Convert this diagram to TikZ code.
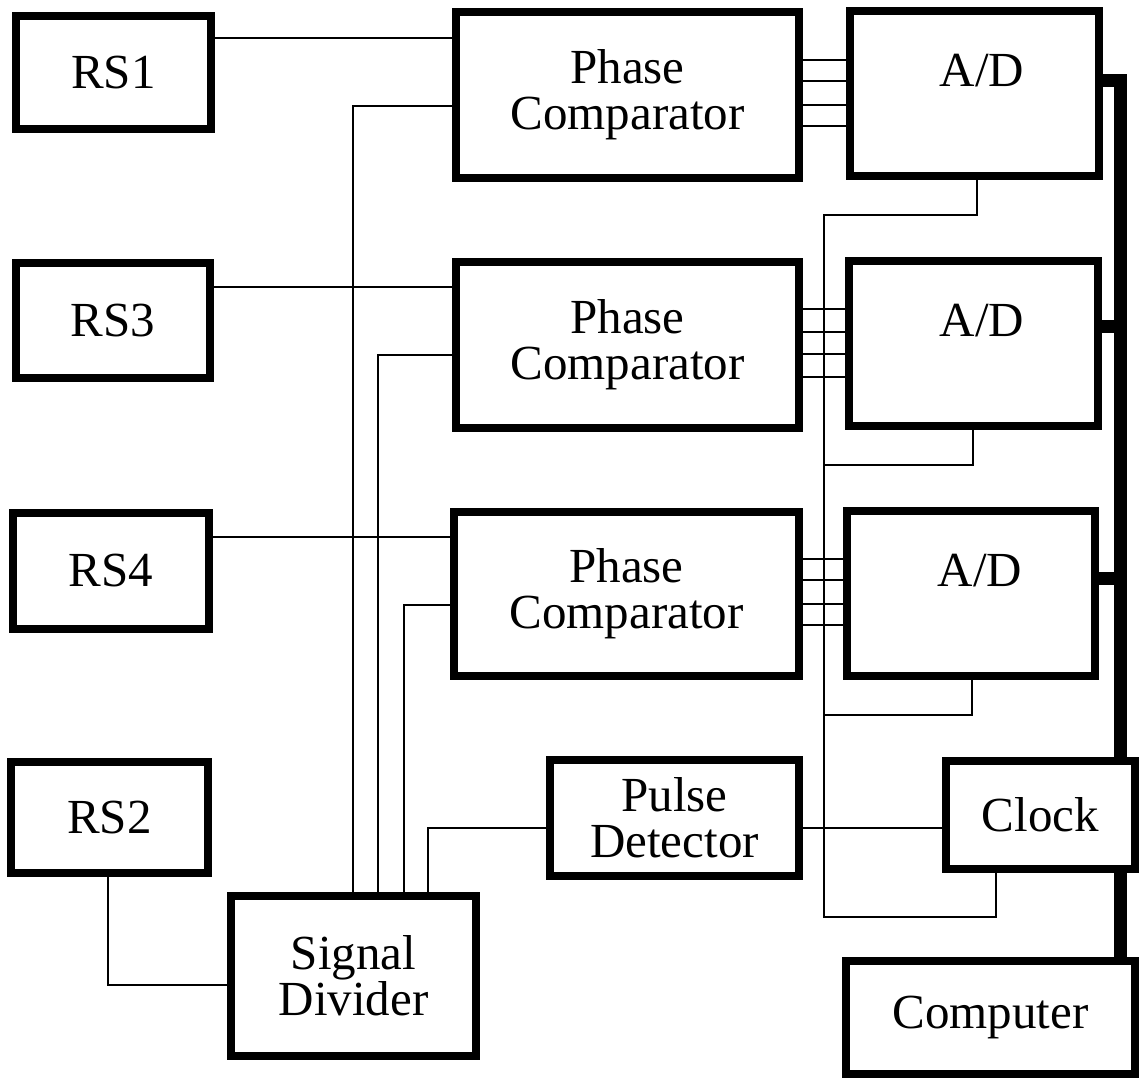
\documentclass[tikz,border=0pt]{standalone}
\usepackage{fontspec}
\setmainfont{Liberation Serif}
\begin{document}
\begin{tikzpicture}[x=1pt,y=-1pt,
  box/.style={draw, line width=8pt, inner sep=0pt, outer sep=0pt, align=center,
    font=\fontsize{49}{46}\selectfont},
  txt/.style={inner sep=0pt, font=\fontsize{49}{46}\selectfont},
  wire/.style={line width=2.4pt},
  bus/.style={line width=13pt, line join=miter}]
\useasboundingbox (0,0) rectangle (1139,1080);
\newcommand\mkbox[6]{\node[box, minimum width={(#4-#2-8)*1pt}, minimum height={(#5-#3-8)*1pt}] (#1) at ({(#2+#4)/2},{(#3+#5)/2}) {#6};}
\coordinate (busx) at (1120,0);
% boxes
\mkbox{rs1}{12}{12}{215}{133}{RS1}
\mkbox{rs3}{12}{259}{214}{382}{RS3}
\mkbox{rs4}{9}{509}{213}{633}{RS4}
\mkbox{rs2}{7}{758}{212}{877}{RS2}
\mkbox{pc1}{452}{8}{803}{182}{Phase\\Comparator}
\mkbox{pc2}{452}{258}{803}{432}{Phase\\Comparator}
\mkbox{pc3}{450}{508}{803}{680}{Phase\\Comparator}
\mkbox{ad1}{846}{7}{1103}{180}{}
\mkbox{ad2}{845}{257}{1102}{430}{}
\mkbox{ad3}{843}{507}{1099}{680}{}
\mkbox{pd}{546}{756}{803}{880}{Pulse\\Detector}
\mkbox{clk}{942}{757}{1139}{873}{Clock}
\mkbox{cmp}{842}{957}{1139}{1078}{Computer}
\mkbox{sd}{227}{892}{480}{1060}{Signal\\Divider}
\node[txt, anchor=base] (adt1) at (982,86) {A/D};
\node[txt, anchor=base] (adt2) at (982,336) {A/D};
\node[txt, anchor=base] (adt3) at (980,586) {A/D};
% bus
\draw[bus] (ad1.east |- 0,80) -- (busx |- 0,80) -- (busx |- clk.north);
\draw[bus] (ad2.east |- 0,326) -- (busx |- 0,326);
\draw[bus] (ad3.east |- 0,578) -- (busx |- 0,578);
\draw[bus] (busx |- clk.south) -- (busx |- cmp.north);
% RS inputs
\draw[wire] (rs1.east |- 0,38) -- (pc1.west |- 0,38);
\draw[wire] (rs3.east |- 0,287) -- (pc2.west |- 0,287);
\draw[wire] (rs4.east |- 0,537) -- (pc3.west |- 0,537);
\draw[wire] (rs2.south -| 108,0) -- (108,985) -- (sd.west |- 0,985);
% signal divider outputs
\draw[wire] (sd.north -| 353,0) -- (353,106) -- (pc1.west |- 0,106);
\draw[wire] (sd.north -| 378,0) -- (378,355) -- (pc2.west |- 0,355);
\draw[wire] (sd.north -| 404,0) -- (404,605) -- (pc3.west |- 0,605);
\draw[wire] (sd.north -| 428,0) -- (428,828) -- (pd.west |- 0,828);
\draw[wire] (pd.east |- 0,828) -- (clk.west |- 0,828);
% PC to A/D
\foreach \y in {60,81,105,126} \draw[wire] (pc1.east |- 0,\y) -- (ad1.west |- 0,\y);
\foreach \y in {309,332,354,377} \draw[wire] (pc2.east |- 0,\y) -- (ad2.west |- 0,\y);
\foreach \y in {559,580,604,625} \draw[wire] (pc3.east |- 0,\y) -- (ad3.west |- 0,\y);
% clock distribution
\draw[wire] (clk.south -| 996,0) -- (996,917) -- (824,917) -- (824,215) -- (977,215) -- (ad1.south -| 977,0);
\draw[wire] (824,465) -- (973,465) -- (ad2.south -| 973,0);
\draw[wire] (824,715) -- (972,715) -- (ad3.south -| 972,0);
\end{tikzpicture}
\end{document}
